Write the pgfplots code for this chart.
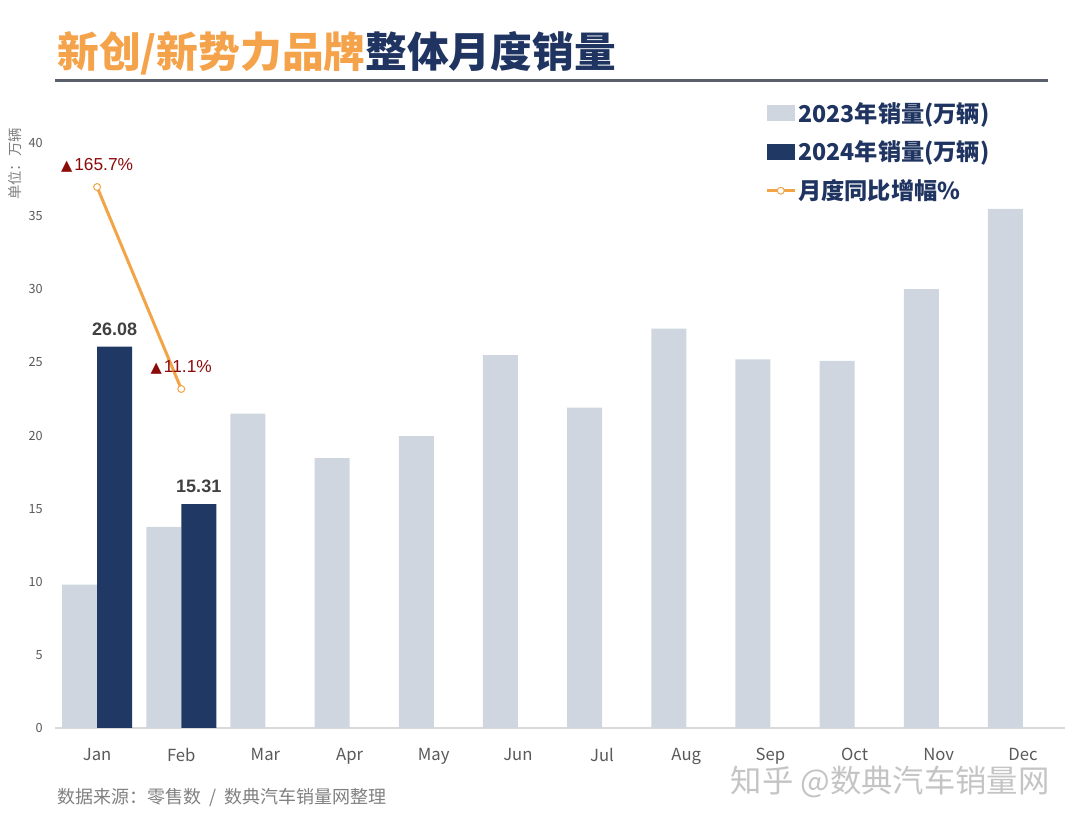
\documentclass[border=0pt]{standalone}
\usepackage{pgfplots}
\pgfplotsset{compat=1.18}
\usepackage{fontspec}
\setmainfont{Noto Sans CJK SC}
\newfontfamily\arial{Liberation Sans}
\newfontfamily\dejavu{DejaVu Sans}
\definecolor{gbar}{HTML}{D0D6E0}
\definecolor{nbar}{HTML}{203864}
\definecolor{lorange}{HTML}{F2A447}
\definecolor{torange}{HTML}{F5A34B}
\definecolor{tnavy}{HTML}{1F3461}
\definecolor{dred}{HTML}{8B0A0A}
\definecolor{tickgray}{HTML}{595959}
\definecolor{rulegray}{HTML}{5A606B}
\definecolor{footgray}{HTML}{808080}
\definecolor{wmgray}{HTML}{C4C4C4}
\definecolor{axgray}{HTML}{D9D9D9}
\begin{document}
\begin{tikzpicture}
\useasboundingbox (0,0) rectangle (810pt,617.25pt);
% title
\node[anchor=west, inner sep=0pt, font=\fontsize{31.3pt}{31.3pt}\selectfont\bfseries] at (42.75pt,577.5pt) {\textcolor{torange}{新创/新势力品牌}\textcolor{tnavy}{整体月度销量}};
\draw[line width=2.25pt, color=rulegray] (41.25pt,556.5pt) -- (786pt,556.5pt);
% y unit label
\node[rotate=90, inner sep=0pt, font=\fontsize{10.8pt}{10.8pt}\selectfont, text=footgray] at (11.25pt,494.25pt) {单位：万辆};
% footer
\node[anchor=west, inner sep=0pt, font=\fontsize{13.5pt}{13.5pt}\selectfont, text=footgray] at (42.75pt,18.75pt) {数据来源：零售数~~/~~数典汽车销量网整理};
\node[anchor=base, inner sep=0pt, text height=0.68em, text depth=0pt, font=\fontsize{23.5pt}{23.5pt}\selectfont, text=wmgray] at (667.5pt,23pt) {知乎 @数典汽车销量网};

\begin{axis}[
  at={(41.25pt,71.25pt)}, anchor=south west,
  scale only axis, width=757.5pt, height=438.75pt,
  ybar=0pt, bar width=26.25pt,
  xmin=-0.5, xmax=11.5, ymin=0, ymax=40,
  enlargelimits=false,
  axis lines*=left,
  axis line style={-},
  x axis line style={draw=axgray, line width=0.9pt},
  y axis line style={draw=none},
  ytick={0,5,...,40},
  xtick={0,...,11},
  xticklabels={Jan,Feb,Mar,Apr,May,Jun,Jul,Aug,Sep,Oct,Nov,Dec},
  major tick length=0pt,
  tick style={draw=none},
  /pgf/number format/assume math mode=true,
  yticklabel style={font=\fontsize{9.5pt}{9.5pt}\selectfont, text=tickgray, anchor=east, inner sep=0pt, xshift=-9pt},
  xticklabel style={font=\fontsize{12.5pt}{12.5pt}\selectfont, text=tickgray, anchor=north, inner sep=0pt, yshift=-15pt},
  legend cell align=left,
  legend style={at={(0.703,1.0735)}, anchor=north west, draw=none, fill=none, inner sep=0pt,
    font=\fontsize{17.4pt}{17.4pt}\selectfont\bfseries, text=tnavy, row sep=9.6pt, nodes={inner sep=1.5pt}},
]
\addplot[fill=gbar, draw=none,
  legend image code/.code={\fill[gbar] (0pt,-6pt) rectangle (21pt,6pt);}]
  coordinates {(0,9.8)(1,13.75)(2,21.5)(3,18.45)(4,19.95)(5,25.5)(6,21.9)(7,27.3)(8,25.2)(9,25.1)(10,30.0)(11,35.5)};
\addplot[fill=nbar, draw=none,
  legend image code/.code={\fill[nbar] (0pt,-6pt) rectangle (21pt,6pt);},
  nodes near coords={\pgfmathprintnumber[fixed,fixed zerofill,precision=2]{\pgfplotspointmeta}},
  nodes near coords style={anchor=south, inner sep=0pt, yshift=8pt, text=black!75, font=\arial\bfseries\fontsize{13.5pt}{13.5pt}\selectfont}]
  coordinates {(0,26.08)(1,15.31)};
\addlegendimage{legend image code/.code={\draw[lorange, line width=2.25pt] (0pt,0pt) -- (21pt,0pt); \draw[lorange, fill=white, line width=0.75pt] (10.5pt,0pt) circle (2.6pt);}}
\legend{2023年销量(万辆), 2024年销量(万辆), 月度同比增幅\%}
\end{axis}

\begin{axis}[
  at={(41.25pt,71.25pt)}, anchor=south west,
  scale only axis, width=757.5pt, height=438.75pt,
  xmin=-0.5, xmax=11.5, ymin=-248.4, ymax=199.4,
  hide axis, clip=false,
]
\addplot[lorange, line width=2.25pt, mark=*, mark size=2.6pt,
  mark options={fill=white, draw=lorange, line width=0.75pt}]
  coordinates {(0,165.7)(1,11.1)};
\node[inner sep=0pt, yshift=16.5pt, text=dred] at (axis cs:0,165.7) {{\dejavu\fontsize{11pt}{11pt}\selectfont ▲}\hspace{1.5pt}{\arial\fontsize{13pt}{13pt}\selectfont 165.7\%}};
\node[inner sep=0pt, yshift=16.5pt, text=dred] at (axis cs:1,11.1) {{\dejavu\fontsize{11pt}{11pt}\selectfont ▲}\hspace{1.5pt}{\arial\fontsize{13pt}{13pt}\selectfont 11.1\%}};
\end{axis}
\end{tikzpicture}
\end{document}
